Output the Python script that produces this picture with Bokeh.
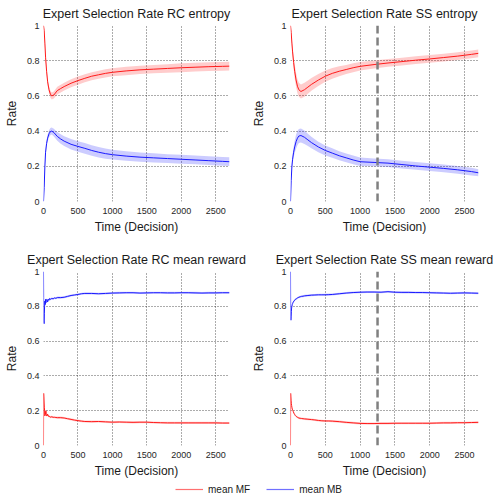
from bokeh.plotting import figure
from bokeh.layouts import column, row
from bokeh.models import Range1d, FixedTicker, Legend, LegendItem
from bokeh.embed import file_html
from bokeh.resources import INLINE
import numpy as np

# ---------------- data ----------------
x_ticks = [0, 500, 1000, 1500, 2000, 2500]
y_ticks = [0, 0.2, 0.4, 0.6, 0.8, 1]
y_tick_labels = {0: "0", 0.2: "0.2", 0.4: "0.4", 0.6: "0.6", 0.8: "0.8", 1: "1"}
x_max = 2700
switch_time = 1250

titles = ["Expert Selection Rate RC entropy", "Expert Selection Rate SS entropy",
          "Expert Selection Rate RC mean reward", "Expert Selection Rate SS mean reward"]
legend_labels = ["mean MF", "mean MB"]

t_ent = [0, 10, 20, 30, 45, 60, 80, 100, 120, 150, 200, 250, 300, 400, 500, 600, 700,
         800, 900, 1000, 1200, 1400, 1600, 1800, 2000, 2200, 2400, 2600, 2700]

mf_rc_ent = [1.0, 0.97, 0.9, 0.82, 0.74, 0.68, 0.635, 0.61, 0.6, 0.605, 0.63, 0.642, 0.653,
             0.672, 0.687, 0.70, 0.712, 0.72, 0.728, 0.734, 0.742, 0.748, 0.752, 0.756,
             0.76, 0.763, 0.766, 0.768, 0.769]
mf_rc_ent_err = [0, 0.01, 0.02, 0.02, 0.02, 0.02, 0.02, 0.02, 0.02, 0.02, 0.022, 0.022, 0.022,
                 0.023, 0.023, 0.023, 0.023, 0.023, 0.023, 0.023, 0.024, 0.024, 0.024, 0.024,
                 0.025, 0.025, 0.025, 0.025, 0.025]
mb_rc_ent = [0.0, 0.08, 0.2, 0.28, 0.33, 0.36, 0.385, 0.397, 0.40, 0.392, 0.37, 0.355, 0.343,
             0.325, 0.313, 0.302, 0.29, 0.28, 0.272, 0.266, 0.258, 0.252, 0.248, 0.244,
             0.24, 0.236, 0.232, 0.228, 0.226]
mb_rc_ent_err = [0, 0.01, 0.015, 0.02, 0.02, 0.02, 0.02, 0.02, 0.02, 0.022, 0.025, 0.027, 0.028,
                 0.03, 0.03, 0.03, 0.03, 0.03, 0.029, 0.028, 0.027, 0.026, 0.026, 0.025,
                 0.025, 0.025, 0.025, 0.025, 0.025]

mf_ss_ent = [1.0, 0.96, 0.9, 0.85, 0.79, 0.74, 0.69, 0.655, 0.635, 0.625, 0.635, 0.65, 0.665,
             0.69, 0.712, 0.728, 0.74, 0.75, 0.76, 0.768, 0.778, 0.787, 0.795, 0.803,
             0.81, 0.818, 0.826, 0.836, 0.842]
mf_ss_ent_err = [0, 0.01, 0.02, 0.03, 0.035, 0.04, 0.04, 0.04, 0.04, 0.04, 0.04, 0.038, 0.036,
                 0.034, 0.032, 0.03, 0.028, 0.026, 0.025, 0.024, 0.023, 0.022, 0.022, 0.022,
                 0.022, 0.022, 0.022, 0.022, 0.022]
mb_ss_ent = [0.0, 0.12, 0.2, 0.24, 0.28, 0.31, 0.34, 0.36, 0.372, 0.375, 0.365, 0.35, 0.335,
             0.31, 0.29, 0.275, 0.26, 0.248, 0.236, 0.226, 0.222, 0.218, 0.21, 0.202,
             0.195, 0.188, 0.18, 0.17, 0.163]
mb_ss_ent_err = [0, 0.01, 0.02, 0.025, 0.03, 0.035, 0.04, 0.04, 0.04, 0.04, 0.038, 0.035, 0.033,
                 0.03, 0.028, 0.027, 0.026, 0.025, 0.025, 0.024, 0.022, 0.022, 0.022, 0.022,
                 0.022, 0.022, 0.022, 0.022, 0.02]

t_rew = [0, 2, 5, 8, 12, 16, 20, 25, 30, 35, 40, 50, 60, 70, 80, 90, 100, 120, 140, 160,
         180, 200, 250, 300, 350, 400, 450, 500, 550, 600, 700, 800, 900, 1000, 1100, 1200,
         1300, 1400, 1500, 1600, 1700, 1800, 1900, 2000, 2100, 2200, 2300, 2400, 2500, 2600, 2700]

mb_rc_rew = [1.0, 0.85, 0.72, 0.70, 0.76, 0.80, 0.83, 0.81, 0.84, 0.82, 0.835, 0.84, 0.825,
             0.84, 0.835, 0.845, 0.84, 0.845, 0.843, 0.848, 0.846, 0.85, 0.85, 0.852, 0.857,
             0.862, 0.865, 0.868, 0.872, 0.874, 0.874, 0.872, 0.874, 0.876, 0.877, 0.878,
             0.878, 0.876, 0.877, 0.878, 0.878, 0.877, 0.877, 0.878, 0.878, 0.877, 0.876,
             0.877, 0.877, 0.878, 0.878]
mf_rc_rew = [0.0, 0.3, 0.28, 0.25, 0.22, 0.2, 0.17, 0.19, 0.18, 0.2, 0.175, 0.17, 0.18,
             0.168, 0.17, 0.165, 0.163, 0.165, 0.162, 0.162, 0.161, 0.16, 0.16, 0.158, 0.154,
             0.15, 0.146, 0.143, 0.14, 0.138, 0.137, 0.138, 0.136, 0.134, 0.135, 0.134,
             0.133, 0.134, 0.134, 0.132, 0.131, 0.13, 0.13, 0.13, 0.13, 0.13, 0.13,
             0.13, 0.13, 0.129, 0.129]

mb_ss_rew = [1.0, 0.8, 0.72, 0.74, 0.77, 0.79, 0.80, 0.81, 0.815, 0.82, 0.825, 0.83, 0.835,
             0.84, 0.842, 0.845, 0.848, 0.852, 0.855, 0.857, 0.858, 0.86, 0.862, 0.864, 0.865,
             0.866, 0.866, 0.866, 0.867, 0.868, 0.872, 0.876, 0.879, 0.881, 0.882, 0.882,
             0.881, 0.884, 0.881, 0.88, 0.88, 0.879, 0.879, 0.878, 0.877, 0.876, 0.875,
             0.876, 0.877, 0.876, 0.875]
mf_ss_rew = [0.0, 0.3, 0.28, 0.26, 0.24, 0.23, 0.22, 0.21, 0.205, 0.2, 0.195, 0.185, 0.178,
             0.172, 0.168, 0.165, 0.162, 0.158, 0.156, 0.155, 0.154, 0.153, 0.151, 0.149,
             0.147, 0.144, 0.142, 0.141, 0.141, 0.14, 0.137, 0.133, 0.13, 0.127, 0.126,
             0.126, 0.127, 0.127, 0.128, 0.128, 0.128, 0.128, 0.128, 0.128, 0.129, 0.13,
             0.13, 0.131, 0.131, 0.132, 0.133]
rew_err = 0.006

# ---------------- styling ----------------
FONT = "Liberation Sans"
RED = "#ff1a1a"
BLUE = "#1a1aff"
RED_BAND = "#ff0000"
BLUE_BAND = "#0000ff"


def make_panel(title, t, mf, mf_err, mb, mb_err, width, height, bl, br, bt, bb,
               title_standoff, switch=None):
    p = figure(width=width, height=height, x_range=Range1d(0, x_max), y_range=Range1d(0, 1),
               output_backend="svg", toolbar_location=None, title=title,
               min_border_left=bl, min_border_right=br, min_border_top=bt, min_border_bottom=bb)
    p.outline_line_color = None
    p.background_fill_color = "white"
    p.border_fill_color = "white"
    p.title.text_font = FONT
    p.title.text_font_size = "12.5px"
    p.title.text_font_style = "normal"
    p.title.text_color = "#1a1a1a"
    p.title.align = "center"
    p.title.standoff = title_standoff

    for ax in (p.xaxis[0], p.yaxis[0]):
        ax.axis_line_color = None
        ax.major_tick_line_color = None
        ax.minor_tick_line_color = None
        ax.major_tick_out = 0
        ax.major_tick_in = 0
        ax.minor_tick_out = 0
        ax.major_label_text_font = FONT
        ax.major_label_text_font_size = "9px"
        ax.major_label_text_color = "#262626"
        ax.axis_label_text_font = FONT
        ax.axis_label_text_font_size = "12px"
        ax.axis_label_text_font_style = "normal"
        ax.axis_label_text_color = "#1a1a1a"
    p.xaxis.ticker = FixedTicker(ticks=x_ticks)
    p.yaxis.ticker = FixedTicker(ticks=y_ticks)
    p.yaxis.major_label_overrides = y_tick_labels
    p.xaxis.axis_label = "Time (Decision)"
    p.yaxis.axis_label = "Rate"
    p.xaxis.major_label_standoff = 6
    p.yaxis.major_label_standoff = 4
    p.xaxis.axis_label_standoff = 3
    p.yaxis.axis_label_standoff = 5

    for g in (p.xgrid[0], p.ygrid[0]):
        g.grid_line_color = "#000000"
        g.grid_line_alpha = 0.65
        g.grid_line_dash = "1 2"
        g.grid_line_width = 1

    t = np.asarray(t, dtype=float)
    mf = np.asarray(mf, dtype=float)
    mb = np.asarray(mb, dtype=float)
    mf_err = np.asarray(mf_err, dtype=float) * np.ones_like(mf)
    mb_err = np.asarray(mb_err, dtype=float) * np.ones_like(mb)

    p.varea(x=t, y1=mf - mf_err, y2=mf + mf_err, fill_color=RED_BAND, fill_alpha=0.2)
    p.varea(x=t, y1=mb - mb_err, y2=mb + mb_err, fill_color=BLUE_BAND, fill_alpha=0.2)
    p.line(x=t, y=mf, line_color=RED, line_width=1)
    p.line(x=t, y=mb, line_color=BLUE, line_width=1)

    if switch is not None:
        p.line(x=[switch, switch], y=[0, 1], line_color="#808080", line_width=2.5,
               line_dash="8 4")
    return p


LW, RW = 247, 247
TOP_H = 245
BOT_H = 235
LEG_H = 18

p1 = make_panel(titles[0], t_ent, mf_rc_ent, mf_rc_ent_err, mb_rc_ent, mb_rc_ent_err,
                LW, TOP_H, 43, 18, 25, 44, 9)
p2 = make_panel(titles[1], t_ent, mf_ss_ent, mf_ss_ent_err, mb_ss_ent, mb_ss_ent_err,
                RW, TOP_H, 43, 16, 25, 44, 9, switch=switch_time)
p3 = make_panel(titles[2], t_rew, mf_rc_rew, rew_err, mb_rc_rew, rew_err,
                LW, BOT_H, 43, 18, 25, 34, 10)
p4 = make_panel(titles[3], t_rew, mf_ss_rew, rew_err, mb_ss_rew, rew_err,
                RW, BOT_H, 43, 16, 25, 34, 10, switch=switch_time)

# legend strip (legend-only renderers: a single point draws no visible line)
lf = figure(width=LW + RW, height=LEG_H, output_backend="svg", toolbar_location=None,
            x_axis_type=None, y_axis_type=None, min_border=0,
            x_range=Range1d(0, 1), y_range=Range1d(0, 1))
lf.outline_line_color = None
lf.xgrid.visible = False
lf.ygrid.visible = False
r_mf = lf.line(x=[0], y=[0], line_color="#ff7070", line_width=1.2)
r_mb = lf.line(x=[0], y=[0], line_color="#7070ff", line_width=1.2)
leg = Legend(items=[LegendItem(label=legend_labels[0], renderers=[r_mf]),
                    LegendItem(label=legend_labels[1], renderers=[r_mb])],
             orientation="horizontal", location=(175, 3), border_line_color=None,
             background_fill_alpha=0, padding=0, margin=0, spacing=16,
             glyph_width=28, glyph_height=12, label_height=12, label_standoff=5,
             label_text_font=FONT, label_text_font_size="10px", label_text_color="#1a1a1a")
lf.add_layout(leg)

layout = column(row(p1, p2), row(p3, p4), lf)

open("out.html", "w").write(file_html(layout, INLINE))
